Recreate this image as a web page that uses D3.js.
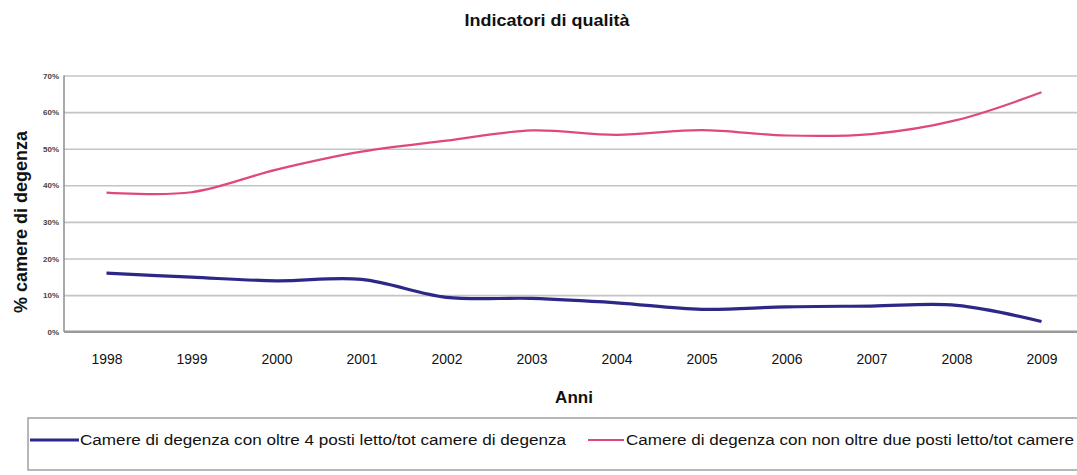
<!DOCTYPE html>
<html>
<head>
<meta charset="utf-8">
<script src="https://cdn.jsdelivr.net/npm/d3@7/dist/d3.min.js"></script>
<style>
  html, body { margin: 0; padding: 0; background: #fff; }
  svg { display: block; font-family: "Liberation Sans", Arial, sans-serif; }
</style>
</head>
<body>
<svg id="chart" width="1077" height="475"></svg>
<script>
// Anni di rilevazione
const years = ["1998","1999","2000","2001","2002","2003","2004","2005","2006","2007","2008","2009"];
// Camere di degenza con oltre 4 posti letto / tot camere di degenza (%)
const oltre4 = [16.0, 14.9, 13.9, 14.3, 9.4, 9.1, 7.9, 6.1, 6.8, 7.0, 7.2, 2.8];
// Camere di degenza con non oltre due posti letto / tot camere (%)
const nonOltre2 = [38.0, 38.1, 44.3, 49.2, 52.2, 55.0, 53.8, 55.1, 53.6, 54.0, 57.8, 65.4];
const yTicks = [0, 10, 20, 30, 40, 50, 60, 70];
const seriesNames = [
  "Camere di degenza con oltre 4 posti letto/tot camere di degenza",
  "Camere di degenza con non oltre due posti letto/tot camere"
];
const seriesColors = ["#2d2888", "#e0477f"];

const svg = d3.select("#chart");
const plot = { left: 64, right: 1084, top: 75.5, bottom: 331.7 };

const x = d3.scalePoint().domain(years).range([plot.left, plot.right]).padding(0.5);
const y = d3.scaleLinear().domain([0, 70]).range([plot.bottom, plot.top]);

// Title
svg.append("text")
  .attr("x", 547).attr("y", 26)
  .attr("text-anchor", "middle")
  .attr("font-size", 16).attr("font-weight", "bold")
  .attr("fill", "#111")
  .attr("textLength", 165)
  .attr("lengthAdjust", "spacingAndGlyphs")
  .text("Indicatori di qualità");

// Horizontal gridlines and y labels
const yAxis = svg.append("g")
  .attr("transform", `translate(${plot.left},0)`)
  .call(d3.axisLeft(y).tickValues(yTicks)
    .tickSize(-(plot.right - plot.left))
    .tickPadding(5)
    .tickFormat(d => d + "%"));
yAxis.select(".domain").remove();
yAxis.selectAll(".tick line")
  .attr("stroke", "#c4c4c4").attr("stroke-width", 1.6);
yAxis.selectAll(".tick text")
  .attr("font-size", 8).attr("font-weight", "bold")
  .attr("fill", "#444")
  .attr("font-family", "Liberation Sans, Arial, sans-serif");

// Axis lines
svg.append("line")
  .attr("x1", plot.left).attr("x2", plot.left)
  .attr("y1", plot.top).attr("y2", plot.bottom)
  .attr("stroke", "#8c8c8c").attr("stroke-width", 1.5);
svg.append("line")
  .attr("x1", plot.left).attr("x2", plot.right)
  .attr("y1", plot.bottom).attr("y2", plot.bottom)
  .attr("stroke", "#9a9a9a").attr("stroke-width", 2.5);

// X labels
const xAxis = svg.append("g")
  .attr("transform", `translate(0,${plot.bottom})`)
  .call(d3.axisBottom(x).tickSize(0).tickPadding(22));
xAxis.select(".domain").remove();
xAxis.selectAll(".tick text")
  .attr("font-size", 15)
  .attr("fill", "#111")
  .attr("font-family", "Liberation Sans, Arial, sans-serif")
  .attr("textLength", 31)
  .attr("lengthAdjust", "spacingAndGlyphs");

// Axis titles
svg.append("text")
  .attr("x", 574).attr("y", 403)
  .attr("text-anchor", "middle")
  .attr("font-size", 17).attr("font-weight", "bold")
  .attr("fill", "#111")
  .text("Anni");

svg.append("text")
  .attr("transform", "translate(27,222) rotate(-90)")
  .attr("text-anchor", "middle")
  .attr("font-size", 18).attr("font-weight", "bold")
  .attr("fill", "#111")
  .text("% camere di degenza");

// Series lines
const line = d3.line()
  .x((d, i) => x(years[i]))
  .y(d => y(d))
  .curve(d3.curveCatmullRom.alpha(0));

svg.append("path")
  .datum(nonOltre2)
  .attr("d", line)
  .attr("fill", "none")
  .attr("stroke", seriesColors[1])
  .attr("stroke-width", 2.2);

svg.append("path")
  .datum(oltre4)
  .attr("d", line)
  .attr("fill", "none")
  .attr("stroke", seriesColors[0])
  .attr("stroke-width", 3.2);

// Legend
const legend = svg.append("g");
legend.append("rect")
  .attr("x", 28).attr("y", 418)
  .attr("width", 1060).attr("height", 52)
  .attr("fill", "#fff")
  .attr("stroke", "#a0a0a0").attr("stroke-width", 1.5);

const legendItems = [
  { sx: 30, ex: 79, tx: 80, tl: 486 },
  { sx: 588, ex: 624, tx: 626, tl: 448 }
];
legendItems.forEach((it, i) => {
  legend.append("line")
    .attr("x1", it.sx).attr("x2", it.ex)
    .attr("y1", 440).attr("y2", 440)
    .attr("stroke", seriesColors[i])
    .attr("stroke-width", i === 0 ? 3.2 : 2.2);
  legend.append("text")
    .attr("x", it.tx).attr("y", 445)
    .attr("font-size", 14)
    .attr("fill", "#111")
    .attr("textLength", it.tl)
    .attr("lengthAdjust", "spacingAndGlyphs")
    .text(seriesNames[i]);
});
</script>
</body>
</html>
